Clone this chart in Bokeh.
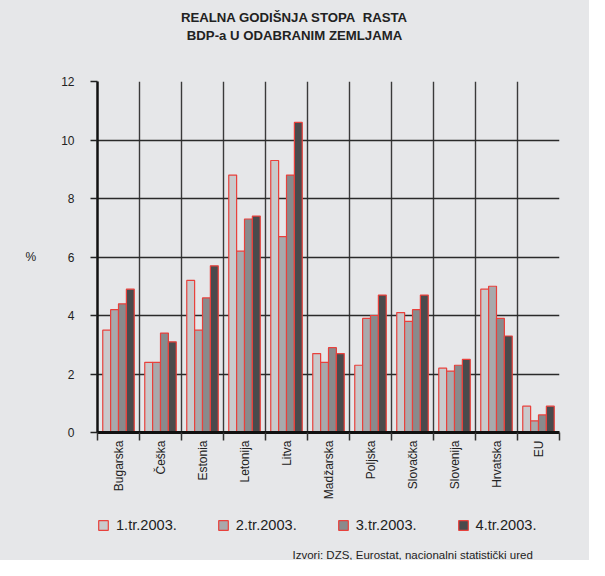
from math import pi
from bokeh.plotting import figure
from bokeh.layouts import column
from bokeh.models import Range1d, FixedTicker, Label, Legend, LegendItem
from bokeh.embed import file_html
from bokeh.resources import INLINE

countries = ["Bugarska", "Češka", "Estonia", "Letonija", "Litva", "Madžarska",
             "Poljska", "Slovačka", "Slovenija", "Hrvatska", "EU"]
q1 = [3.5, 2.4, 5.2, 8.8, 9.3, 2.7, 2.3, 4.1, 2.2, 4.9, 0.9]
q2 = [4.2, 2.4, 3.5, 6.2, 6.7, 2.4, 3.9, 3.8, 2.1, 5.0, 0.4]
q3 = [4.4, 3.4, 4.6, 7.3, 8.8, 2.9, 4.0, 4.2, 2.3, 3.9, 0.6]
q4 = [4.9, 3.1, 5.7, 7.4, 10.6, 2.7, 4.7, 4.7, 2.5, 3.3, 0.9]
series_names = ["1.tr.2003.", "2.tr.2003.", "3.tr.2003.", "4.tr.2003."]
series = [q1, q2, q3, q4]
y_ticks = [0, 2, 4, 6, 8, 10, 12]
title_lines = ["REALNA GODIŠNJA STOPA\u00a0 RASTA", "BDP-a U ODABRANIM ZEMLJAMA"]
source_text = "Izvori: DZS, Eurostat, nacionalni statistički ured"

colors = ["#c9cacc", "#a8a9ac", "#898a8c", "#4a4a4c"]
edge = "#e8413c"
bg = "#e6e7e9"
txt = "#222222"
FONT = "Liberation Sans"
W = 589
LEFT, RIGHT = 97, 30
BG_STYLE = {"background-color": bg}


def strip_fig(h):
    # frame spans the same columns as the chart frame; data units = pixels
    f = figure(width=W, height=h, output_backend="svg", toolbar_location=None,
               x_range=Range1d(LEFT, W - RIGHT), y_range=Range1d(h, 0),
               x_axis_location=None, y_axis_location=None,
               min_border_left=LEFT, min_border_right=RIGHT,
               min_border_top=0, min_border_bottom=0, styles=BG_STYLE)
    f.background_fill_color = bg
    f.border_fill_color = bg
    f.outline_line_color = None
    f.xgrid.grid_line_color = None
    f.ygrid.grid_line_color = None
    return f


# ---- title strip ----
top = strip_fig(70)
for yy, line in zip([16.5, 34.5], title_lines):
    top.add_layout(Label(x=294, y=yy, text=line, text_align="center",
                         text_baseline="middle", text_font=FONT,
                         text_font_style="bold", text_font_size="13.2px",
                         text_color=txt))

# ---- main chart ----
p = figure(width=W, height=445, output_backend="svg", toolbar_location=None,
           x_range=Range1d(0, len(countries)), y_range=Range1d(0, 12),
           min_border_left=LEFT, min_border_right=RIGHT, min_border_top=11,
           min_border_bottom=83, styles=BG_STYLE)
p.background_fill_color = bg
p.border_fill_color = bg
p.outline_line_color = None

bw = 0.1875
centers = [i + 0.5 for i in range(len(countries))]
for k, vals in enumerate(series):
    off = (k - 1.5) * bw
    p.vbar(x=[c + off for c in centers], top=vals, width=bw, bottom=0,
           fill_color=colors[k], line_color=edge, line_width=1.2)

ya = p.yaxis[0]
ya.ticker = FixedTicker(ticks=y_ticks)
ya.axis_line_width = 2.5
ya.axis_line_color = "#111111"
ya.major_tick_out = 7
ya.major_tick_in = 0
ya.major_tick_line_width = 1.5
ya.major_tick_line_color = "#222222"
ya.minor_tick_line_color = None
ya.major_label_standoff = 16
ya.major_label_text_font = FONT
ya.major_label_text_font_size = "12px"
ya.major_label_text_color = txt
ya.axis_label = "%"
ya.axis_label_orientation = "horizontal"
ya.axis_label_standoff = 22
ya.axis_label_text_font = FONT
ya.axis_label_text_font_style = "normal"
ya.axis_label_text_font_size = "12px"
ya.axis_label_text_color = txt

xa = p.xaxis[0]
xa.ticker = FixedTicker(ticks=centers, minor_ticks=list(range(len(countries) + 1)))
xa.major_label_overrides = {c: n for c, n in zip(centers, countries)}
xa.major_label_orientation = pi / 2
xa.axis_line_width = 3
xa.axis_line_color = "#111111"
xa.major_tick_line_color = None
xa.major_tick_out = 0
xa.major_tick_in = 0
xa.minor_tick_out = 8
xa.minor_tick_in = 0
xa.minor_tick_line_width = 1.5
xa.minor_tick_line_color = "#333333"
xa.major_label_standoff = 0
xa.major_label_text_font = FONT
xa.major_label_text_font_size = "12px"
xa.major_label_text_color = txt

p.ygrid.grid_line_color = "#2a2a2a"
p.ygrid.grid_line_width = 1.4
p.xgrid.grid_line_color = None
p.xgrid.minor_grid_line_color = "#3a3a3a"
p.xgrid.minor_grid_line_width = 1.4

# ---- legend + source strip ----
bot = strip_fig(45)
items = []
for k, (name, vals) in enumerate(zip(series_names, series)):
    # hidden proxy renderer carrying the series style for the legend swatch
    r = bot.vbar(x=centers, top=vals, width=bw, fill_color=colors[k],
                 line_color=edge, line_width=1.2, visible=False)
    items.append(LegendItem(label=name, renderers=[r]))
lg = Legend(items=items, orientation="horizontal", location=(0, 25),
            background_fill_alpha=0, border_line_color=None, padding=0,
            margin=0, spacing=40, glyph_width=12, glyph_height=12,
            label_standoff=7, label_height=20, label_text_font=FONT,
            label_text_font_size="14.6px", label_text_color=txt,
            inactive_fill_alpha=0, click_policy="none")
bot.add_layout(lg, "center")
bot.add_layout(Label(x=292, y=39, text=source_text, text_align="left",
                     text_baseline="middle", text_font=FONT,
                     text_font_size="11.5px", text_color=txt))

layout = column(top, p, bot, spacing=0, styles=BG_STYLE)
html = file_html(layout, INLINE)
html = html.replace("<body>", '<body style="background-color:%s;">' % bg, 1)
open("out.html", "w").write(html)
